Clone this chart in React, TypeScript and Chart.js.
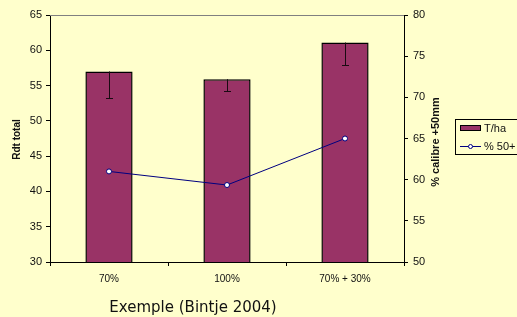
import React, { useEffect, useRef } from "react";
import { Chart, registerables } from "chart.js";

Chart.register(...registerables);

const categories = ["70%", "100%", "70% + 30%"];
const yieldValues = [57, 55.9, 61.1];
const yieldErrorLow = [53.3, 54.2, 57.9];
const calibreValues = [61, 59.35, 65];
const leftTicks = [30, 35, 40, 45, 50, 55, 60, 65];
const rightTicks = [50, 55, 60, 65, 70, 75, 80];

const BG = "#FFFFCC";
const BAR = "#993366";
const NAVY = "#000080";
const FONT = "'Liberation Sans', Arial, sans-serif";

const decorPlugin = {
  id: "decor",
  beforeDraw(chart: any) {
    const ctx = chart.ctx;
    ctx.save();
    ctx.fillStyle = BG;
    ctx.fillRect(0, 0, chart.width, chart.height);
    ctx.restore();
  },
  afterDatasetsDraw(chart: any) {
    const ctx = chart.ctx;
    const x = chart.scales.x;
    const y = chart.scales.y;
    const area = chart.chartArea;
    ctx.save();
    ctx.strokeStyle = "#808080";
    ctx.lineWidth = 1;
    ctx.beginPath();
    ctx.moveTo(area.left, Math.round(area.top) + 0.5);
    ctx.lineTo(area.right, Math.round(area.top) + 0.5);
    ctx.stroke();
    ctx.strokeStyle = "#1a0a12";
    ctx.lineWidth = 1;
    categories.forEach((_, i) => {
      const px = Math.round(x.getPixelForValue(i)) + 0.5;
      const yTop = y.getPixelForValue(yieldValues[i]);
      const yLow = Math.round(y.getPixelForValue(yieldErrorLow[i])) + 0.5;
      ctx.beginPath();
      ctx.moveTo(px, yTop);
      ctx.lineTo(px, yLow);
      ctx.moveTo(px - 3.5, yLow);
      ctx.lineTo(px + 3.5, yLow);
      ctx.stroke();
    });
    ctx.restore();
  },
  afterDraw(chart: any) {
    const ctx = chart.ctx;
    const area = chart.chartArea;
    ctx.save();
    ctx.fillStyle = "#111";
    ctx.font = `bold 10px ${FONT}`;
    ctx.textAlign = "center";
    ctx.textBaseline = "middle";
    ctx.save();
    ctx.translate(17, (area.top + area.bottom) / 2 + 1);
    ctx.rotate(-Math.PI / 2);
    ctx.fillText("Rdt total", 0, 0);
    ctx.restore();
    ctx.font = `bold 11px ${FONT}`;
    ctx.save();
    ctx.translate(436, 142);
    ctx.rotate(-Math.PI / 2);
    ctx.fillText("% calibre +50mm", 0, 0);
    ctx.restore();
    ctx.font = `15px 'DejaVu Sans', sans-serif`;
    ctx.textAlign = "center";
    ctx.textBaseline = "alphabetic";
    ctx.fillText("Exemple (Bintje 2004)", 193, 312, 172);
    // legend
    ctx.fillStyle = BG;
    ctx.fillRect(455.5, 119.5, 70, 35);
    ctx.strokeStyle = "#000";
    ctx.lineWidth = 1;
    ctx.strokeRect(455.5, 119.5, 70, 35);
    ctx.fillStyle = BAR;
    ctx.fillRect(460.5, 125.5, 20, 5);
    ctx.strokeStyle = "#000";
    ctx.strokeRect(460.5, 125.5, 20, 5);
    ctx.strokeStyle = NAVY;
    ctx.beginPath();
    ctx.moveTo(460, 146.5);
    ctx.lineTo(481, 146.5);
    ctx.stroke();
    ctx.fillStyle = "#fff";
    ctx.beginPath();
    ctx.arc(470.5, 146.5, 2, 0, Math.PI * 2);
    ctx.fill();
    ctx.stroke();
    ctx.fillStyle = "#111";
    ctx.font = `11px ${FONT}`;
    ctx.textAlign = "left";
    ctx.textBaseline = "middle";
    ctx.fillText("T/ha", 484, 129);
    ctx.fillText("% 50+", 484, 147);
    ctx.restore();
  },
};

export default function App() {
  const ref = useRef<HTMLCanvasElement | null>(null);
  useEffect(() => {
    document.body.style.margin = "0";
    document.body.style.background = BG;
    if (!ref.current) return;
    const chart = new Chart(ref.current, {
      type: "bar",
      data: {
        labels: categories,
        datasets: [
          {
            type: "bar",
            label: "T/ha",
            data: yieldValues,
            backgroundColor: BAR,
            borderColor: "#000",
            borderWidth: 1.5,
            barPercentage: 0.4,
            categoryPercentage: 1,
            yAxisID: "y",
            order: 2,
          },
          {
            type: "line",
            label: "% 50+",
            data: calibreValues,
            borderColor: NAVY,
            borderWidth: 1,
            pointBackgroundColor: "#fff",
            pointBorderColor: NAVY,
            pointBorderWidth: 1,
            pointRadius: 2.5,
            yAxisID: "y1",
            order: 1,
          } as any,
        ],
      },
      options: {
        responsive: false,
        animation: false,
        devicePixelRatio: 1,
        layout: { padding: { top: 15, left: 0, right: 0, bottom: 0 } },
        plugins: {
          legend: { display: false },
          tooltip: { enabled: false },
          title: { display: false },
        },
        scales: {
          x: {
            offset: true,
            grid: {
              offset: true,
              drawOnChartArea: false,
              drawTicks: true,
              tickLength: 4,
              color: "#000",
            },
            border: { display: true, color: "#000", width: 1 },
            ticks: {
              color: "#111",
              font: { family: FONT, size: 10 },
              padding: 7,
              maxRotation: 0,
            },
            afterFit: (s: any) => {
              s.height = 55;
            },
          },
          y: {
            position: "left",
            min: 30,
            max: 65,
            afterBuildTicks: (s: any) => {
              s.ticks = leftTicks.map((v) => ({ value: v }));
            },
            grid: {
              drawOnChartArea: false,
              drawTicks: true,
              tickLength: 4,
              color: "#000",
            },
            border: { display: true, color: "#000", width: 1 },
            ticks: {
              color: "#111",
              font: { family: FONT, size: 11 },
              padding: 4,
            },
            afterFit: (s: any) => {
              s.width = 50;
            },
          },
          y1: {
            position: "right",
            min: 50,
            max: 80,
            afterBuildTicks: (s: any) => {
              s.ticks = rightTicks.map((v) => ({ value: v }));
            },
            grid: {
              drawOnChartArea: false,
              drawTicks: true,
              tickLength: 4,
              color: "#000",
            },
            border: { display: true, color: "#000", width: 1 },
            ticks: {
              color: "#111",
              font: { family: FONT, size: 11 },
              padding: 5,
            },
            afterFit: (s: any) => {
              s.width = 113;
            },
          },
        },
      } as any,
      plugins: [decorPlugin],
    });
    return () => chart.destroy();
  }, []);
  return (
    <canvas
      ref={ref}
      width={517}
      height={317}
      style={{ display: "block", width: 517, height: 317 }}
    />
  );
}
